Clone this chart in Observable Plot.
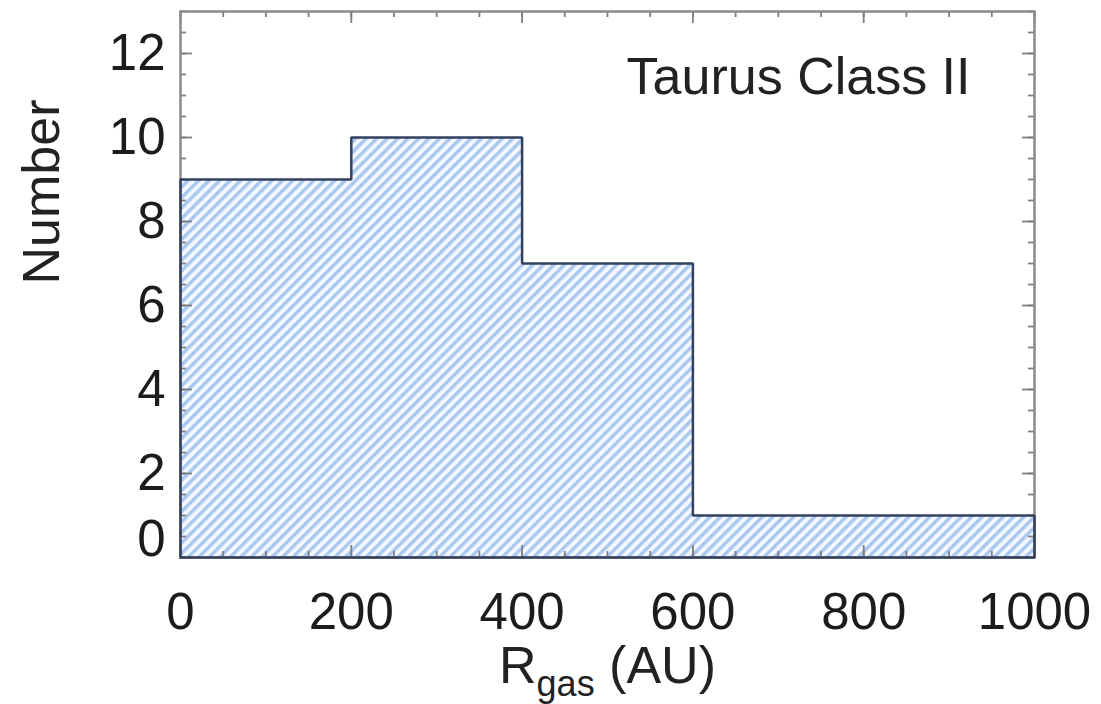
<!DOCTYPE html>
<html><head><meta charset="utf-8">
<script src="https://cdn.jsdelivr.net/npm/d3@7"></script>
<script src="https://cdn.jsdelivr.net/npm/@observablehq/plot@0.6"></script>
<style>html,body{margin:0;padding:0;background:#fff;} svg{display:block}</style>
</head><body><div id="chart"></div>
<script>
// ---- data ----
const binEdges = [0, 200, 400, 600, 800, 1000];
const counts = [9, 10, 7, 1, 1];
const xTicks = [0, 200, 400, 600, 800, 1000];
const yTicks = [0, 2, 4, 6, 8, 10, 12];
const xMinorStep = 50;
const yMinorStep = 0.5;
const title = "Taurus Class II";
const yLabel = "Number";
const xLabelMain = "R";
const xLabelSub = "gas";
const xLabelUnit = " (AU)";

// ---- derived tables ----
const bins = counts.map((c, i) => ({x1: binEdges[i], x2: binEdges[i + 1], count: c}));
const outline = [{x: binEdges[0], y: 0}];
bins.forEach(b => { outline.push({x: b.x1, y: b.count}); outline.push({x: b.x2, y: b.count}); });
outline.push({x: binEdges[binEdges.length - 1], y: 0});
outline.push({x: binEdges[0], y: 0});

const W = 1101, H = 704, mL = 180, mR = 67, mT = 11, mB = 147;
const pw = W - mL - mR, ph = H - mT - mB;
const xMinor = d3.range(0, 1000 + 1e-9, xMinorStep);
const yMinor = d3.range(0, 13 + 1e-9, yMinorStep);
const tickColor = "#7f7f7f";
const font = "'Liberation Sans', Arial, Helvetica, sans-serif";
const xLabelFull = xLabelMain + " " + xLabelSub + xLabelUnit;

const chart = Plot.plot({
  width: W, height: H,
  marginLeft: mL, marginRight: mR, marginTop: mT, marginBottom: mB,
  style: {fontFamily: font, fontSize: "51px", color: "#1c1c1c", background: "#fff"},
  x: {domain: [0, 1000]},
  y: {domain: [0, 13]},
  marks: [
    Plot.rectY(bins, {x1: "x1", x2: "x2", y: "count", fill: "url(#hatch)"}),
    // inward ticks: bottom / top
    Plot.ruleX(xMinor, {x: d => d, insetTop: ph - 6, stroke: tickColor, strokeWidth: 1.8}),
    Plot.ruleX(xTicks, {x: d => d, insetTop: ph - 12, stroke: tickColor, strokeWidth: 1.8}),
    Plot.ruleX(xMinor, {x: d => d, insetBottom: ph - 6, stroke: tickColor, strokeWidth: 1.8}),
    Plot.ruleX(xTicks, {x: d => d, insetBottom: ph - 12, stroke: tickColor, strokeWidth: 1.8}),
    // inward ticks: left / right
    Plot.ruleY(yMinor, {y: d => d, insetRight: pw - 6, stroke: tickColor, strokeWidth: 1.8}),
    Plot.ruleY(yTicks, {y: d => d, insetRight: pw - 12, stroke: tickColor, strokeWidth: 1.8}),
    Plot.ruleY(yMinor, {y: d => d, insetLeft: pw - 6, stroke: tickColor, strokeWidth: 1.8}),
    Plot.ruleY(yTicks, {y: d => d, insetLeft: pw - 12, stroke: tickColor, strokeWidth: 1.8}),
    Plot.frame({stroke: "#8a8a8a", strokeWidth: 2.5}),
    Plot.line(outline, {x: "x", y: "y", stroke: "#33415f", strokeWidth: 2.5, strokeLinejoin: "miter"}),
    Plot.axisX(xTicks, {anchor: "bottom", tickSize: 0, tickPadding: 35, label: null, tickFormat: d => String(d)}),
    Plot.axisY(yTicks.filter(d => d !== 0), {anchor: "left", tickSize: 0, tickPadding: 15, label: null, tickFormat: d => String(d)}),
    Plot.axisY(yTicks.filter(d => d === 0), {anchor: "left", tickSize: 0, tickPadding: 15, label: null, dy: -18, tickFormat: d => String(d)}),
    Plot.text([title], {text: d => d, frameAnchor: "top-right", textAnchor: "end", lineAnchor: "middle", dx: -64, dy: 66, fontSize: 52, fill: "#222"}),
    Plot.text([yLabel], {text: d => d, frameAnchor: "left", rotate: -90, lineAnchor: "middle", dx: -138, fontSize: 52, fill: "#222"}),
    Plot.text([xLabelFull], {text: d => d, frameAnchor: "bottom", textAnchor: "middle", lineAnchor: "top", dy: 89, fontSize: 52, fill: "#222"})
  ]
});

const svg = d3.select(chart);
svg.insert("defs", ":first-child").html(
  `<pattern id="hatch" patternUnits="userSpaceOnUse" width="7.4" height="7.4" patternTransform="rotate(45)">
     <rect x="0" y="0" width="7.4" height="7.4" fill="#f3f8ff"/>
     <rect x="0" y="0" width="3.4" height="7.4" fill="#aac7ef"/>
   </pattern>`
);
svg.selectAll("text").filter(function() { return this.textContent === xLabelFull; }).each(function() {
  const t = d3.select(this);
  t.text(null);
  t.append("tspan").text(xLabelMain);
  t.append("tspan").attr("font-size", 36).attr("dy", 13).text(xLabelSub);
  t.append("tspan").attr("dy", -13).text(xLabelUnit);
});

document.getElementById("chart").appendChild(chart);
</script>
</body></html>
